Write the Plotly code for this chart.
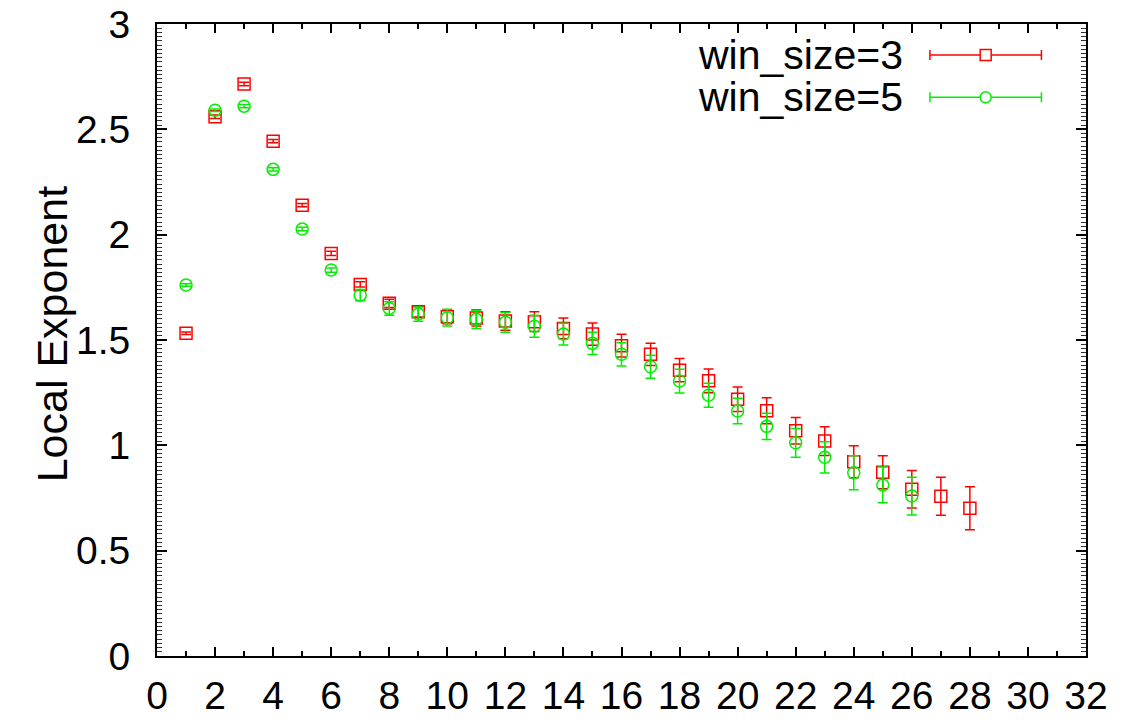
import plotly.graph_objects as go

# ---- data ----
x_w3 = list(range(1, 29))
y_w3 = [1.532, 2.560, 2.715, 2.444, 2.140, 1.911, 1.764, 1.674, 1.634, 1.610,
        1.605, 1.590, 1.587, 1.555, 1.528, 1.473, 1.432, 1.357, 1.306, 1.219,
        1.164, 1.069, 1.020, 0.922, 0.872, 0.791, 0.758, 0.701]
e_w3 = [0.006, 0.008, 0.008, 0.008, 0.008, 0.010, 0.012, 0.020, 0.025, 0.033,
        0.038, 0.044, 0.047, 0.049, 0.053, 0.054, 0.053, 0.055, 0.056, 0.058,
        0.062, 0.063, 0.068, 0.076, 0.078, 0.089, 0.090, 0.102]

x_w5 = list(range(1, 27))
y_w5 = [1.761, 2.591, 2.610, 2.310, 2.027, 1.832, 1.713, 1.650, 1.623, 1.606,
        1.598, 1.584, 1.565, 1.528, 1.484, 1.432, 1.373, 1.305, 1.238, 1.163,
        1.090, 1.012, 0.943, 0.870, 0.812, 0.759]
e_w5 = [0.006, 0.006, 0.008, 0.008, 0.008, 0.010, 0.027, 0.032, 0.034, 0.040,
        0.043, 0.047, 0.052, 0.052, 0.053, 0.055, 0.055, 0.056, 0.057, 0.060,
        0.062, 0.068, 0.074, 0.081, 0.085, 0.090]

series_names = ["win_size=3", "win_size=5"]
series_colors = ["#ff0000", "#00ee00"]
series_symbols = ["square-open", "circle-open"]
y_title = "Local Exponent"
x_range = [0, 32]
y_range = [0, 3]

FONT = "Liberation Sans, Arial, Helvetica, sans-serif"
FS = 39
FS_TXT = 41

fig = go.Figure()
# first series on the framed axes, second on the identical label axes (same ranges)
for xs, ys, es, name, col, sym, xa, ya in [
    (x_w3, y_w3, e_w3, series_names[0], series_colors[0], series_symbols[0], "x", "y"),
    (x_w5, y_w5, e_w5, series_names[1], series_colors[1], series_symbols[1], "x2", "y2"),
]:
    fig.add_trace(go.Scatter(
        x=xs, y=ys, mode="markers", name=name, xaxis=xa, yaxis=ya,
        marker=dict(symbol=sym, size=12, color=col, line=dict(width=1.5, color=col)),
        error_y=dict(type="data", array=es, visible=True, color=col, thickness=1.5, width=5),
        showlegend=False,
    ))

# manual legend (text left, sample right, like gnuplot)
leg_y = [0.951, 0.884]
for name, col, sym, ly in zip(series_names, series_colors, series_symbols, leg_y):
    fig.add_annotation(xref="paper", yref="paper", x=0.805, y=ly, text=name,
                       showarrow=False, xanchor="right", yanchor="middle",
                       font=dict(family=FONT, size=FS_TXT, color="black"))
    fig.add_shape(type="line", xref="paper", yref="paper", x0=0.832, x1=0.952,
                  y0=ly, y1=ly, line=dict(color=col, width=1.5))
    for cx in (0.832, 0.952):
        fig.add_shape(type="line", xref="paper", yref="paper", xsizemode="pixel",
                      ysizemode="pixel", xanchor=cx, yanchor=ly, x0=0, x1=0, y0=-5, y1=5,
                      line=dict(color=col, width=1.5))
    fig.add_shape(type="rect" if "square" in sym else "circle", xref="paper", yref="paper",
                  xsizemode="pixel", ysizemode="pixel", xanchor=0.892, yanchor=ly,
                  x0=-5.5, x1=5.5, y0=-5.5, y1=5.5,
                  line=dict(color=col, width=1.5), fillcolor="white")

# y-axis title
fig.add_annotation(xref="paper", yref="paper", x=-0.113, y=0.509, text=y_title,
                   textangle=-90, showarrow=False, xanchor="center", yanchor="middle",
                   font=dict(family=FONT, size=43, color="black"))

frame_common = dict(
    showgrid=False, zeroline=False, showline=True, linecolor="black", linewidth=2,
    mirror="ticks", ticks="inside", tickcolor="black", tickwidth=1.5,
    showticklabels=False, automargin=False,
)
label_common = dict(
    showgrid=False, zeroline=False, showline=False, ticks="outside",
    tickcolor="rgba(0,0,0,0)", tickfont=dict(family=FONT, size=FS, color="black"),
    automargin=False,
)

fig.update_layout(
    xaxis=dict(range=x_range, tickmode="linear", tick0=0, dtick=2, ticklen=9,
               minor=dict(dtick=1, ticklen=5, ticks="inside", tickcolor="black", tickwidth=1.5),
               **frame_common),
    yaxis=dict(range=y_range, tickmode="linear", tick0=0, dtick=0.5, ticklen=10,
               minor=dict(tickmode="linear", tick0=0, dtick=0.02, ticklen=5, ticks="inside",
                          tickcolor="#333333", tickwidth=1),
               **frame_common),
    xaxis2=dict(range=x_range, overlaying="x", anchor="y2", side="bottom",
                tickmode="linear", tick0=0, dtick=2, ticklen=5, **label_common),
    yaxis2=dict(range=y_range, overlaying="y", anchor="x2", side="left",
                tickmode="linear", tick0=0, dtick=0.5, ticklen=18, **label_common),
)

fig.update_layout(
    width=1127, height=720,
    margin=dict(l=157, r=41, t=24, b=64),
    paper_bgcolor="white", plot_bgcolor="rgba(0,0,0,0)",
    font=dict(family=FONT, size=FS, color="black"),
)

fig.write_html("out.html")
